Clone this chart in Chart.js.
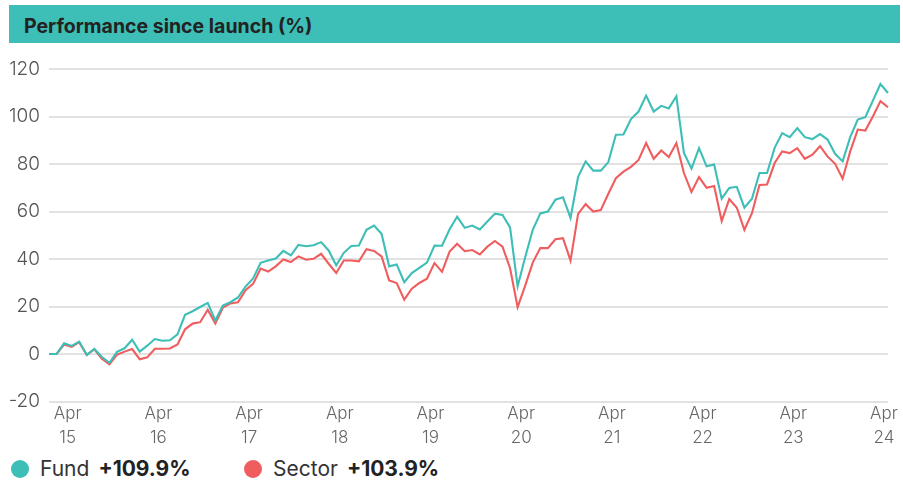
<!DOCTYPE html>
<html>
<head>
<meta charset="utf-8">
<script src="https://cdn.jsdelivr.net/npm/chart.js@4.4.1/dist/chart.umd.min.js"></script>
<style>
  html, body { margin: 0; padding: 0; background: #fff; }
  body {
    width: 903px; height: 481px; position: relative; overflow: hidden;
    font-family: Inter, 'Noto Sans', sans-serif;
  }
  .title-bar {
    position: absolute; left: 9px; top: 5px; width: 891px; height: 38px;
    background: #3dbeb6;
  }
  .title-bar span {
    position: absolute; left: 15px; top: 1px; line-height: 40px;
    font-size: 19.5px; font-weight: 700; color: #222;
  }
  .chart-box { position: absolute; left: 0; top: 0; width: 903px; height: 455px; }
  .legend {
    position: absolute; left: 0; top: 456px; height: 26px; width: 903px;
    font-size: 21px; color: #333; line-height: 26px;
  }
  .legend .item { position: absolute; top: 0; white-space: nowrap; }
  .legend .dot {
    display: inline-block; width: 18px; height: 18px; border-radius: 50%;
    vertical-align: -2px; margin-right: 11px;
  }
  .legend b { font-weight: 700; color: #222; margin-left: 9px; }
</style>
</head>
<body>
<div class="title-bar"><span>Performance since launch (%)</span></div>
<div class="chart-box"><canvas id="perfChart"></canvas></div>
<div class="legend">
  <div class="item" style="left:11px"><span class="dot" style="background:#3dbeb6"></span>Fund<b>+109.9%</b></div>
  <div class="item" style="left:244px"><span class="dot" style="background:#f05d5e"></span>Sector<b>+103.9%</b></div>
</div>

<script>
/* ── Monthly data, Jan 2015 → Apr 2024 (cumulative % since launch) ── */
const startYear  = 2015;
const monthNames = ['Jan','Feb','Mar','Apr','May','Jun','Jul','Aug','Sep','Oct','Nov','Dec'];

const fund = [
  0, 0, 4.5, 3.4, 5.2, -0.4, 2.1, -1.3, -3.7, 0.9, 2.4, 6.0,
  1.0, 3.5, 6.3, 5.6, 5.8, 8.3, 16.5, 18.0, 19.8, 21.5, 14.1, 20.4,
  21.8, 23.8, 28.4, 31.8, 38.4, 39.4, 40.2, 43.4, 41.5, 45.9, 45.4, 45.8,
  47.1, 43.6, 37.3, 42.6, 45.5, 45.7, 52.3, 54.1, 50.6, 36.9, 37.7, 30.2,
  34.1, 36.3, 38.5, 45.7, 45.6, 52.5, 57.8, 53.1, 54.1, 52.4, 55.8, 59.1,
  58.5, 53.3, 28.5, 40.7, 52.3, 59.2, 60.0, 65.0, 66.0, 57.3, 74.6, 81.1,
  77.2, 77.2, 80.8, 92.3, 92.4, 98.9, 102.1, 108.8, 102.1, 104.5, 103.4, 108.5,
  84.7, 78.1, 86.7, 79.0, 79.8, 65.4, 69.9, 70.4, 61.6, 65.4, 76.2, 76.2,
  86.8, 93.0, 91.3, 95.1, 91.3, 90.5, 92.6, 90.3, 84.3, 81.1, 91.3, 98.7,
  99.7, 106.7, 113.7, 109.9
];

const sector = [
  0, 0, 4.0, 3.0, 5.0, -0.4, 2.0, -2.0, -4.3, -0.3, 1.0, 2.1,
  -2.2, -1.4, 2.2, 2.2, 2.3, 4.0, 10.4, 12.8, 13.4, 18.6, 12.9, 19.5,
  21.3, 21.8, 26.9, 29.5, 36.0, 34.7, 36.9, 39.8, 38.7, 41.1, 39.7, 40.1,
  42.2, 38.0, 34.1, 39.4, 39.4, 39.0, 44.1, 43.4, 41.1, 31.0, 29.9, 22.9,
  27.5, 29.9, 31.7, 38.3, 34.6, 43.1, 46.4, 43.3, 43.8, 41.9, 45.2, 47.6,
  45.2, 36.1, 19.7, 28.8, 38.5, 44.6, 44.6, 48.3, 48.8, 39.3, 59.0, 63.1,
  60.0, 60.6, 67.5, 74.0, 76.8, 78.8, 81.7, 88.8, 82.2, 85.7, 82.9, 88.8,
  76.2, 68.2, 74.5, 70.0, 70.7, 56.0, 65.2, 61.6, 52.3, 59.3, 71.2, 71.4,
  80.4, 85.3, 84.6, 86.7, 82.2, 83.9, 87.5, 83.2, 80.1, 73.8, 85.3, 94.5,
  94.1, 100.0, 106.5, 103.9
];

// x tick labels shown once a year, at April
const tickMonth = 'Apr';
const tickYears = ['15','16','17','18','19','20','21','22','23','24'];

const yTicks = { min: -20, max: 120, step: 20 };

// category labels: one per month
const months = fund.map((_, i) =>
  monthNames[i % 12] + ' ' + String(startYear + Math.floor(i / 12)).slice(2));

const COLORS = {
  fund:   '#3dbeb6',
  sector: '#f05d5e',
  grid:   '#e2e2e2',
  tick:   '#666',
};

new Chart(document.getElementById('perfChart'), {
  type: 'line',
  data: {
    labels: months,
    datasets: [
      {
        label: 'Fund',
        data: fund,
        borderColor: COLORS.fund,
        borderWidth: 2.1,
        pointRadius: 0,
        tension: 0,
        fill: false,
      },
      {
        label: 'Sector',
        data: sector,
        borderColor: COLORS.sector,
        borderWidth: 2.1,
        pointRadius: 0,
        tension: 0,
        fill: false,
      },
    ],
  },
  options: {
    responsive: true,
    maintainAspectRatio: false,
    animation: false,
    layout: { padding: { top: 69, right: 15, left: 0, bottom: 0 } },
    plugins: {
      legend:  { display: false },
      tooltip: { enabled: false },
    },
    scales: {
      x: {
        offset: false,
        grid:   { display: false, drawTicks: false },
        border: { display: false },
        ticks: {
          autoSkip: false,
          maxRotation: 0,
          minRotation: 0,
          padding: 0,
          labelOffset: -4,
          color: COLORS.tick,
          font: { family: 'Inter', size: 17, weight: '300', lineHeight: 1.42 },
          callback: function (value) {
            const lbl = this.getLabelForValue(value);
            const [m, yy] = lbl.split(' ');
            return (m === tickMonth && tickYears.includes(yy)) ? [m, yy] : '';
          },
        },
        afterFit: scale => { scale.height = 53.5; },
      },
      y: {
        min: yTicks.min,
        max: yTicks.max,
        grid:   { color: COLORS.grid, lineWidth: 2, drawTicks: false },
        border: { display: false },
        ticks: {
          stepSize: yTicks.step,
          padding: 9,
          color: '#555',
          font: { family: 'Inter', size: 19, weight: '300' },
        },
        afterFit: scale => { scale.width = 49; },
      },
    },
  },
});
</script>
</body>
</html>
